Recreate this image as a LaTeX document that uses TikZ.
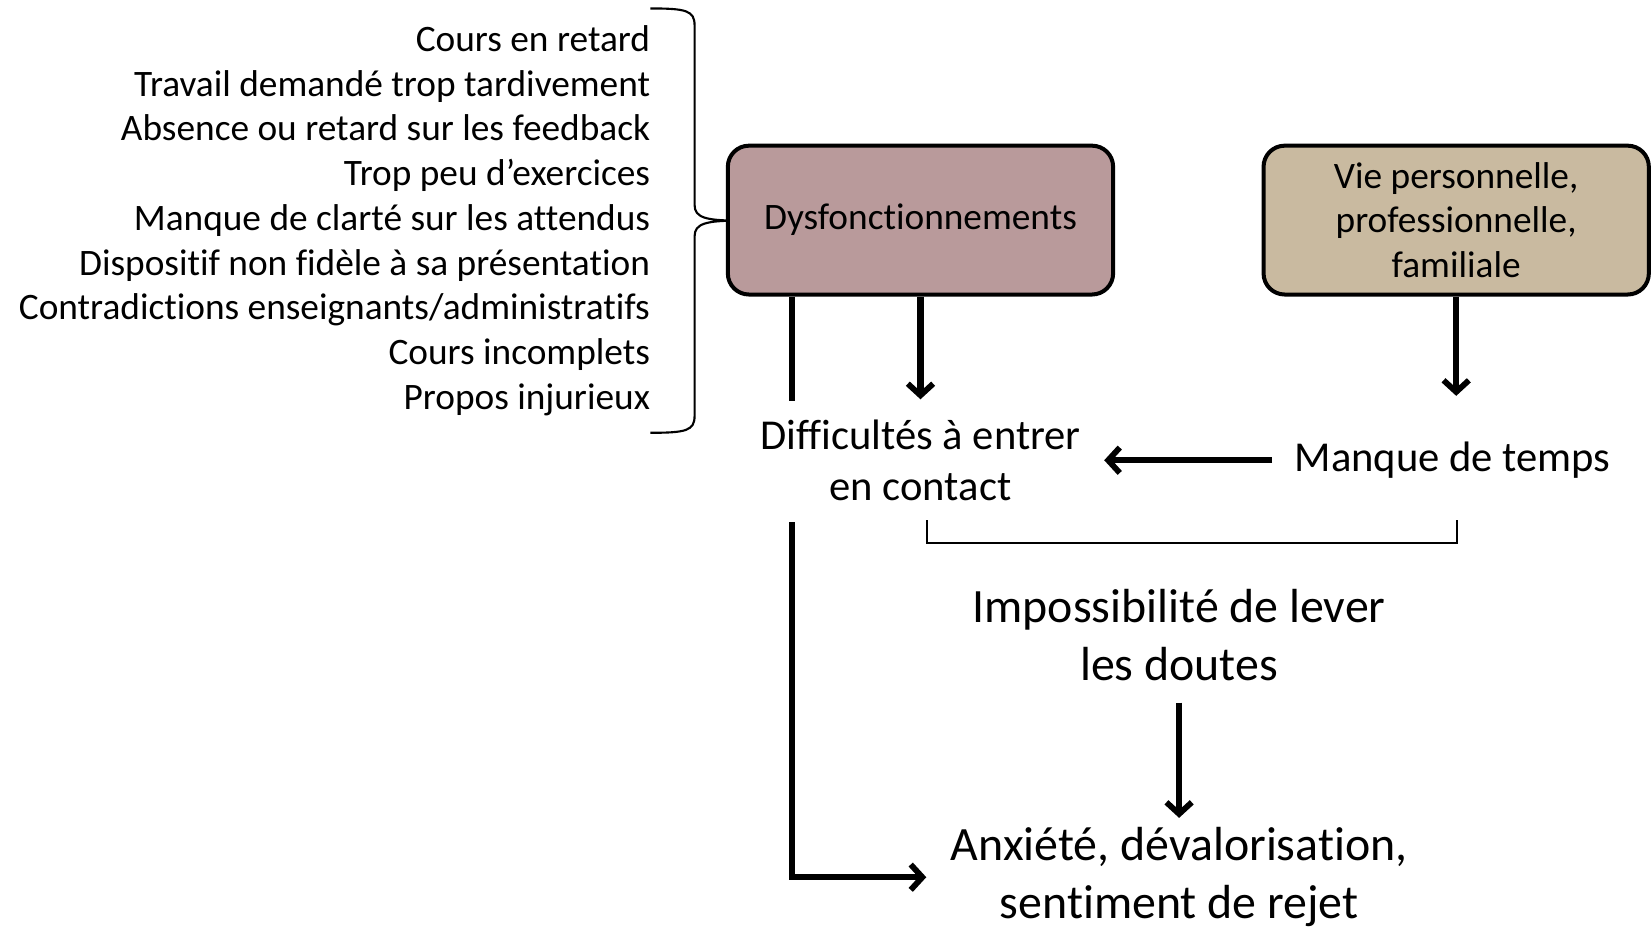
\documentclass[tikz,border=0pt]{standalone}
\usepackage{fontspec}
\setmainfont{Carlito}[Ligatures=NoCommon]
\usetikzlibrary{arrows.meta}
\definecolor{dysfill}{RGB}{185,154,155}
\definecolor{viefill}{RGB}{201,186,160}
\tikzset{
	boxnode/.style={draw=black, line width=3.8bp, rounded corners=20bp, minimum width=365bp, minimum height=141bp, align=center, font=\fontsize{35.5}{42.5}\selectfont},
	txt/.style={inner sep=0pt, align=center},
	fleche/.style={line width=6bp, -{Straight Barb[length=11bp,width=24bp,line width=5.5bp]}},
	trait/.style={line width=6bp},
	accolade/.style={line width=2bp},
}
\begin{document}
\begin{tikzpicture}[x=1bp,y=-1bp]
	\useasboundingbox (0,0) rectangle (1565,888);
	% liste des causes
	\node [txt, align=right, anchor=east, font=\fontsize{35.5}{42.5}\selectfont] (causes) at (616,209) {Cours en retard\\Travail demandé trop tardivement\\Absence ou retard sur les feedback\\Trop peu d’exercices\\Manque de clarté sur les attendus\\Dispositif non fidèle à sa présentation\\Contradictions enseignants/administratifs\\Cours incomplets\\Propos injurieux};
	\draw [accolade] (616,8) .. controls (650,8) and (658,10) .. (658,24) -- (658,194) .. controls (658,206) and (668,209) .. (700,209) .. controls (668,209) and (658,212) .. (658,224) -- (658,394) .. controls (658,408) and (650,410) .. (616,410);
	% boites
	\node [boxnode, fill=dysfill] (dys) at (872,208.5) {Dysfonctionnements};
	\node [boxnode, fill=viefill] (vie) at (1379.5,208.5) {Vie personnelle,\\professionnelle,\\familiale};
	% textes
	\node [txt, font=\fontsize{40.5}{49}\selectfont] (diff) at (872,436) {Difficultés à entrer\\en contact};
	\node [txt, font=\fontsize{40.5}{49}\selectfont] (temps) at (1376,436) {Manque de temps};
	\node [txt, font=\fontsize{45.5}{55}\selectfont] (doutes) at (1117,602) {Impossibilité de lever\\les doutes};
	\node [txt, font=\fontsize{45.5}{55}\selectfont] (anx) at (1117,831) {Anxiété, dévalorisation,\\sentiment de rejet};
	\coordinate (gauche) at (750,0);
	\coordinate (acg) at (878,493);
	\coordinate (acd) at (1380,493);
	% fleches
	\draw [fleche, shorten >=19bp] (dys) -- (diff);
	\draw [fleche, shorten >=61bp] (vie.south) -- (vie.south |- temps);
	\draw [fleche, shorten <=21bp, shorten >=22bp] (temps) -- (diff);
	\draw [trait, shorten >=17bp] (dys.south -| gauche) -- (diff.north -| gauche);
	\draw [fleche, shorten <=20bp, shorten >=23bp] (diff.south -| gauche) |- (anx.west);
	\draw [accolade] (acg) -- ++(0,21) -| (acd);
	\draw [fleche, shorten <=20bp, shorten >=9bp] (doutes) -- (anx);
\end{tikzpicture}
\end{document}
